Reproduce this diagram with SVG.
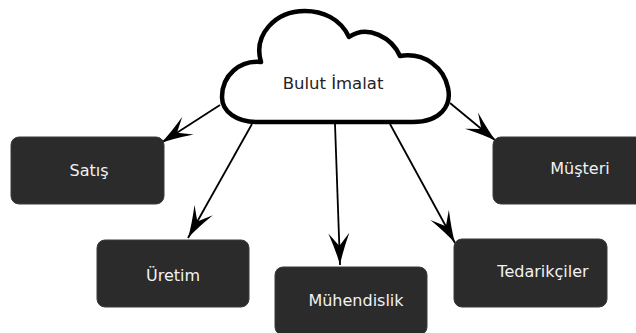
<svg xmlns="http://www.w3.org/2000/svg" width="636" height="333" viewBox="0 0 636 333">
  <style>
    .box { fill: #2b2b2b; stroke: #3a3a3a; stroke-width: 1; }
    .box-label { font-family: "DejaVu Sans", Verdana, sans-serif; font-size: 16px; fill: #f2f2f2; text-anchor: middle; }
    .cloud-shape { fill: #ffffff; stroke: #000000; stroke-width: 4.5; stroke-linejoin: round; }
    .cloud-label { font-family: "DejaVu Sans", Verdana, sans-serif; font-size: 16.5px; fill: #222222; text-anchor: middle; }
    .link { fill: none; stroke: #000000; stroke-width: 1.8; }
  </style>
  <defs>
    <marker id="arrowhead" markerUnits="userSpaceOnUse" markerWidth="34" markerHeight="22" refX="32" refY="11" orient="auto" viewBox="0 0 34 22">
      <path d="M32,11 Q19,8 0,0.5 L13,11 L0,21.5 Q19,14 32,11 Z" fill="#000000"/>
    </marker>
  </defs>

  <rect width="636" height="333" fill="#ffffff"/>

  <!-- connectors from the cloud to each department -->
  <g id="connectors">
    <path class="link" d="M220,105 L161,143" marker-end="url(#arrowhead)"/>
    <path class="link" d="M252,124 L188,238" marker-end="url(#arrowhead)"/>
    <path class="link" d="M335,124 L340,265" marker-end="url(#arrowhead)"/>
    <path class="link" d="M390,124 L455,243" marker-end="url(#arrowhead)"/>
    <path class="link" d="M450,103 L496,141" marker-end="url(#arrowhead)"/>
  </g>

  <!-- central cloud -->
  <g id="cloud">
    <path class="cloud-shape" d="M257,122 L413,122 C440,122 452,106 448,88 C444,68 425,52 400,56 C392,38 368,24 349,37 C340,18 322,11 305,11 C275,11 253,35 261,62 C240,60 222,75 222,97 C222,112 237,122 257,122 Z"/>
    <text class="cloud-label" x="333" y="89">Bulut İmalat</text>
  </g>

  <g id="satis">
    <rect class="box" x="11" y="137" width="153" height="67" rx="8"/>
    <text class="box-label" x="89" y="176">Satış</text>
  </g>

  <g id="uretim">
    <rect class="box" x="97" y="240" width="152" height="67" rx="8"/>
    <text class="box-label" x="173" y="281">Üretim</text>
  </g>

  <g id="muhendislik">
    <rect class="box" x="275" y="267" width="152" height="68" rx="8"/>
    <text class="box-label" x="356" y="306">Mühendislik</text>
  </g>

  <g id="tedarikciler">
    <rect class="box" x="454" y="239" width="153" height="68" rx="8"/>
    <text class="box-label" x="543" y="277">Tedarikçiler</text>
  </g>

  <g id="musteri">
    <rect class="box" x="493" y="137" width="153" height="67" rx="8"/>
    <text class="box-label" x="580" y="174">Müşteri</text>
  </g>
</svg>
